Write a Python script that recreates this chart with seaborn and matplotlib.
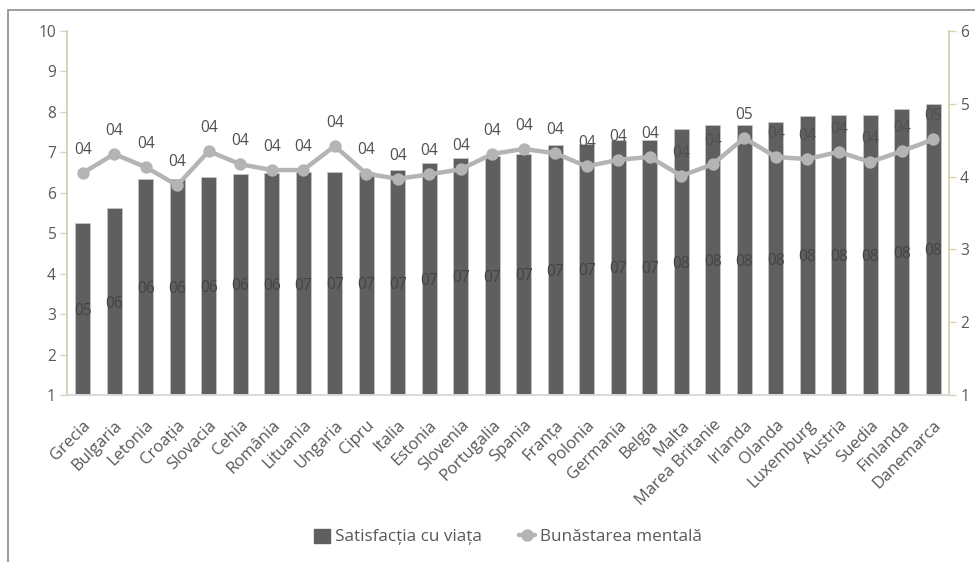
import matplotlib
matplotlib.use("Agg")
import matplotlib.pyplot as plt
import seaborn as sns
import pandas as pd
import numpy as np
from matplotlib.patches import Rectangle
from matplotlib.lines import Line2D
from matplotlib.patches import Patch

countries = ["Grecia", "Bulgaria", "Letonia", "Croația", "Slovacia", "Cehia", "România",
             "Lituania", "Ungaria", "Cipru", "Italia", "Estonia", "Slovenia", "Portugalia",
             "Spania", "Franța", "Polonia", "Germania", "Belgia", "Malta", "Marea Britanie",
             "Irlanda", "Olanda", "Luxemburg", "Austria", "Suedia", "Finlanda", "Danemarca"]
satisfactie = [5.26, 5.62, 6.33, 6.34, 6.40, 6.47, 6.49, 6.51, 6.52, 6.52, 6.56, 6.73, 6.87, 6.91,
               6.96, 7.18, 7.21, 7.31, 7.31, 7.58, 7.68, 7.68, 7.75, 7.91, 7.92, 7.92, 8.08, 8.20]
bunastare = [4.05, 4.31, 4.13, 3.88, 4.35, 4.17, 4.09, 4.09, 4.42, 4.04, 3.97, 4.03, 4.10, 4.31,
             4.38, 4.32, 4.14, 4.23, 4.27, 4.01, 4.17, 4.53, 4.27, 4.24, 4.34, 4.20, 4.35, 4.51]
left_ticks = [1, 2, 3, 4, 5, 6, 7, 8, 9, 10]
right_ticks = [1, 2, 3, 4, 5, 6]
serie1 = "Satisfacția cu viața"
serie2 = "Bunăstarea mentală"

df = pd.DataFrame({"tara": countries, "sat": satisfactie, "bun": bunastare})

sns.set_theme(style="white")
plt.rcParams["font.family"] = ["Open Sans", "DejaVu Sans"]

TXT = "#595959"
BAR = "#5f5f5f"
LINE = "#b4b4b4"
SPINE = "#d9d3b4"
FS = 11.2

fig = plt.figure(figsize=(9.75, 5.62), dpi=100)
ax = fig.add_axes([67/975, 1-395/562, (949-67)/975, (395-31)/562])

sns.barplot(data=df, x="tara", y="sat", color=BAR, saturation=1, width=0.48,
            edgecolor="#cfcfcf", linewidth=0.4, ax=ax, order=countries)
ax.set_ylim(1, 10)
ax.set_yticks(left_ticks)
ax.set_xlim(-0.5, len(countries)-0.5)
ax.set_xlabel("")
ax.set_ylabel("")

ax2 = ax.twinx()
sns.pointplot(data=df, x="tara", y="bun", order=countries, color=LINE,
              markers="o", markersize=6.5, linewidth=3.2, ax=ax2)
ax2.set_ylim(1, 6)
ax2.set_yticks(right_ticks)
ax2.set_xlim(-0.5, len(countries)-0.5)
ax2.set_ylabel("")

# bar labels (centre of bars)
for i, v in enumerate(satisfactie):
    ax.text(i, (1 + v) / 2 - 0.05, f"{round(v):02d}", ha="center", va="center",
            fontsize=FS, color="#444444")
# line labels
for i, v in enumerate(bunastare):
    ax2.annotate(f"{round(v):02d}", (i, v), xytext=(0, 11), textcoords="offset points",
                 ha="center", va="bottom", fontsize=FS, color="#505050")

for a in (ax, ax2):
    a.spines["top"].set_visible(False)
    a.spines["bottom"].set_color("#d9d9d9")
    a.spines["left"].set_color(SPINE)
    a.spines["right"].set_color(SPINE)
    a.spines["left"].set_linewidth(1.2)
    a.spines["right"].set_linewidth(1.2)

ax.tick_params(axis="y", which="both", left=True, length=5, width=1, color=SPINE,
               labelsize=FS, labelcolor=TXT, pad=3)
ax2.tick_params(axis="y", which="both", right=True, length=5, width=1, color=SPINE,
                labelsize=FS, labelcolor=TXT, pad=3)
ax.tick_params(axis="x", bottom=False, labelsize=12, labelcolor=TXT, pad=10)
for lbl in ax.get_xticklabels():
    lbl.set_rotation(45)
    lbl.set_ha("right")
    lbl.set_rotation_mode("anchor")
ax2.tick_params(axis="x", bottom=False, labelbottom=False)

handles = [Patch(facecolor=BAR, edgecolor=BAR, label=serie1),
           Line2D([0], [0], color=LINE, lw=3.2, marker="o", markersize=8, label=serie2)]
fig.legend(handles=handles, loc="center", bbox_to_anchor=(508/975, 1-537/562), ncol=2,
           frameon=False, fontsize=12.3, labelcolor=TXT, handlelength=0.9, handleheight=0.9,
           handletextpad=0.3, columnspacing=2.2)

fig.patches.append(Rectangle((8/975, -0.05), 1.2, 1-10/562+0.05, transform=fig.transFigure,
                             fill=False, edgecolor="#8c8c8c", linewidth=1.2, zorder=0))

fig.savefig("out.png", dpi=100)
